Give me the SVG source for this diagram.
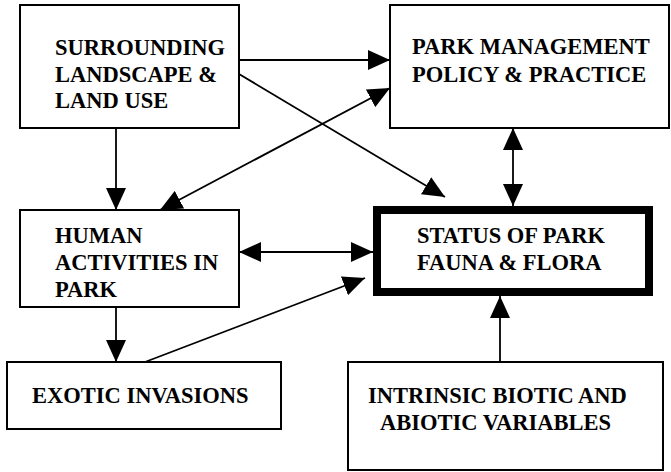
<svg xmlns="http://www.w3.org/2000/svg" width="671" height="472" viewBox="0 0 671 472">
<style>
.box{fill:#fff;stroke:#000;stroke-width:2}
.thick{fill:#fff;stroke:#000;stroke-width:8}
text{font-family:'Liberation Serif','DejaVu Serif',serif;font-weight:700;font-size:22.5px;fill:#000}
.c{fill:none;stroke:#000;stroke-width:1.8}
</style>
<defs>
<marker id="ah" markerUnits="userSpaceOnUse" markerWidth="22" markerHeight="20" viewBox="0 0 22 20" refX="22" refY="10" orient="auto-start-reverse">
<path d="M0,0 L22,10 L0,20 z" fill="#000"/>
</marker>
</defs>
<g id="connectors">
<line class="c" x1="116" y1="128" x2="116" y2="210" marker-end="url(#ah)"/>
<line class="c" x1="239" y1="60" x2="390" y2="60" marker-end="url(#ah)"/>
<line class="c" x1="239" y1="74" x2="445" y2="197" marker-end="url(#ah)"/>
<line class="c" x1="160" y1="210" x2="390" y2="88" marker-start="url(#ah)" marker-end="url(#ah)"/>
<line class="c" x1="513" y1="128" x2="513" y2="206" marker-start="url(#ah)" marker-end="url(#ah)"/>
<line class="c" x1="239" y1="252" x2="373" y2="252" marker-start="url(#ah)" marker-end="url(#ah)"/>
<line class="c" x1="116" y1="307" x2="116" y2="362" marker-end="url(#ah)"/>
<line class="c" x1="145" y1="362" x2="365" y2="278" marker-end="url(#ah)"/>
<line class="c" x1="500" y1="362" x2="500" y2="296" marker-end="url(#ah)"/>
</g>
<g id="surrounding">
<rect class="box" x="20" y="5" width="219" height="123"/>
<text x="55" y="55">SURROUNDING</text>
<text x="55" y="82">LANDSCAPE &amp;</text>
<text x="55" y="108">LAND USE</text>
</g>
<g id="management">
<rect class="box" x="390" y="5" width="279" height="123"/>
<text x="412" y="54">PARK MANAGEMENT</text>
<text x="412" y="82">POLICY &amp; PRACTICE</text>
</g>
<g id="human">
<rect class="box" x="20" y="210" width="219" height="97"/>
<text x="55" y="243">HUMAN</text>
<text x="55" y="270">ACTIVITIES IN</text>
<text x="55" y="297">PARK</text>
</g>
<g id="status">
<rect class="thick" x="377" y="210" width="272" height="82"/>
<text x="417" y="243">STATUS OF PARK</text>
<text x="417" y="270">FAUNA &amp; FLORA</text>
</g>
<g id="exotic">
<rect class="box" x="7" y="362" width="274" height="67"/>
<text x="32" y="403">EXOTIC INVASIONS</text>
</g>
<g id="intrinsic">
<rect class="box" x="348" y="362" width="315" height="108"/>
<text x="368" y="403">INTRINSIC BIOTIC AND</text>
<text x="380" y="430">ABIOTIC VARIABLES</text>
</g>
</svg>
